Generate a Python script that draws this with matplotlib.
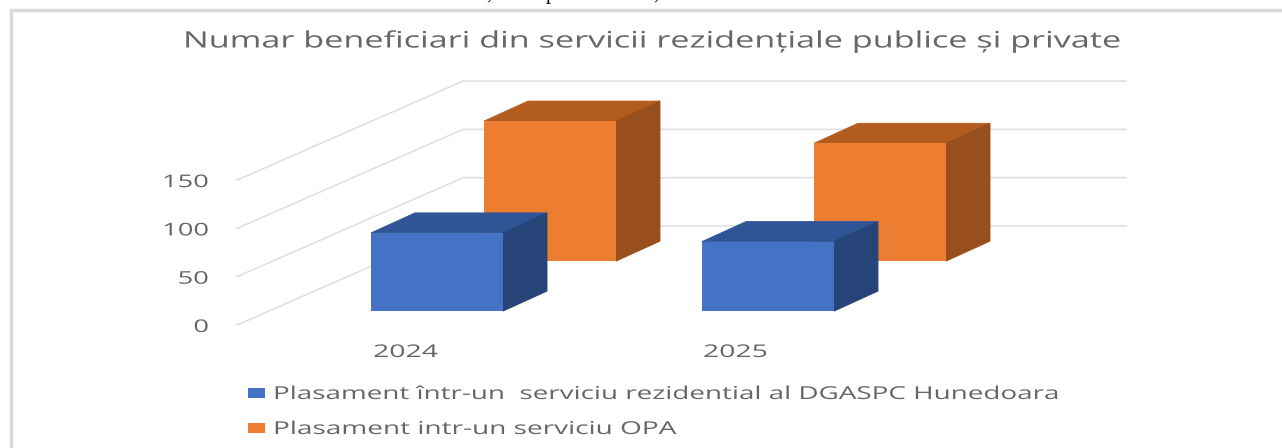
import matplotlib
matplotlib.use("Agg")
import matplotlib.pyplot as plt
from matplotlib.patches import Polygon, Rectangle
from matplotlib.patheffects import AbstractPathEffect
from matplotlib.transforms import Affine2D

W, H = 1282, 448

title = "Numar beneficiari din servicii rezidențiale publice și private"
years = ["2024", "2025"]
series_names = ["Plasament într-un  serviciu rezidential al DGASPC Hunedoara",
                "Plasament intr-un serviciu OPA"]
residential = [81, 72]
opa = [145, 122]
y_ticks = [0, 50, 100, 150]

front_colors = ["#4472c4", "#ed7d31"]
top_colors = ["#2f5597", "#b35c20"]
side_colors = ["#264478", "#984f1c"]
text_color = "#666666"
grid_color = "#e0e0e0"
font = "Open Sans"

# pixels per unit on the value axis, and the floor of the plot
px_per_unit = 48.3 / 50
floor_y = 325
axis_x = 237
back_x = 463
right_x = 1126
depth_dy = -99.0


class Stretch(AbstractPathEffect):
    # the reference is a picture pulled wider, so the glyphs are too
    def __init__(self, sx):
        super().__init__()
        self.sx = sx

    def draw_path(self, renderer, gc, tpath, affine, rgbFace=None):
        renderer.draw_path(gc, tpath, Affine2D().scale(self.sx, 1) + affine, rgbFace)


def val_y(v, d=0.0):
    return floor_y - v * px_per_unit + d * depth_dy


fig = plt.figure(figsize=(W / 100, H / 100), dpi=100)
ax = fig.add_axes([0, 0, 1, 1])
ax.set_xlim(0, W)
ax.set_ylim(H, 0)
ax.axis("off")
rend = fig.canvas.get_renderer()


def wide_text(x, y, s, size, sx=None, width=None, right=False):
    t = ax.text(x, y, s, ha="left", va="baseline", fontsize=size, color=text_color, family=font)
    w = t.get_window_extent(rend).width
    if width is not None:
        sx = width / w
    if right:
        t.set_x(x - w * sx)
    t.set_path_effects([Stretch(sx)])
    return sx


# end of the text line above the chart, cut by the crop
for x, s in [(486, ","), (546, "p"), (653, ",")]:
    ax.text(x, -1, s, ha="left", va="baseline", fontsize=15, color="black", family="Liberation Serif")

# frame of the chart, cut by the page
ax.add_patch(Rectangle((11, 10), W + 20, H + 20, fc="white", ec="#d9d9d9", lw=2.4))

# gridlines: slanted wall then back wall
for v in y_ticks:
    ax.plot([axis_x, back_x, right_x], [val_y(v), val_y(v, 1), val_y(v, 1)],
            color=grid_color, lw=1.2, zorder=1)


def bar3d(left, width, d0, value, j):
    # front face, top and right side of one column
    dx, dy = 44, -20
    base = val_y(0, d0)
    top = base - value * px_per_unit
    z = 3 - j
    ax.add_patch(Polygon([(left, top), (left + width, top), (left + width + dx, top + dy), (left + dx, top + dy)],
                         fc=top_colors[j], ec=top_colors[j], lw=0.6, zorder=z))
    ax.add_patch(Polygon([(left + width, top), (left + width + dx, top + dy), (left + width + dx, base + dy), (left + width, base)],
                         fc=side_colors[j], ec=side_colors[j], lw=0.6, zorder=z))
    ax.add_patch(Rectangle((left, top), width, base - top, fc=front_colors[j], ec="none", zorder=z))


lefts = [[371, 702], [484, 814]]
depths = [0.14, 0.645]
for j, vals in enumerate([residential, opa]):
    for i, v in enumerate(vals):
        bar3d(lefts[j][i], 132, depths[j], v, j)

wide_text(183, 47.5, title, 16.3, width=936)

sx_ticks = None
for v in reversed(y_ticks):
    if sx_ticks is None:
        sx_ticks = wide_text(209, val_y(v) + 7, str(v), 12.6, width=47, right=True)
    else:
        wide_text(209, val_y(v) + 7, str(v), 12.6, sx=sx_ticks, right=True)

for i, y in enumerate(years):
    wide_text(373 + i * 330, 357, y, 12.6, width=65)

# legend
legend_y = [393, 428]
legend_w = [787, 403]
for j, name in enumerate(series_names):
    ax.add_patch(Rectangle((248, legend_y[j] - 5), 17, 10, fc=front_colors[j], ec="none"))
    wide_text(273, legend_y[j] + 6, name, 12.8, width=legend_w[j])

fig.savefig("out.png", dpi=100)
